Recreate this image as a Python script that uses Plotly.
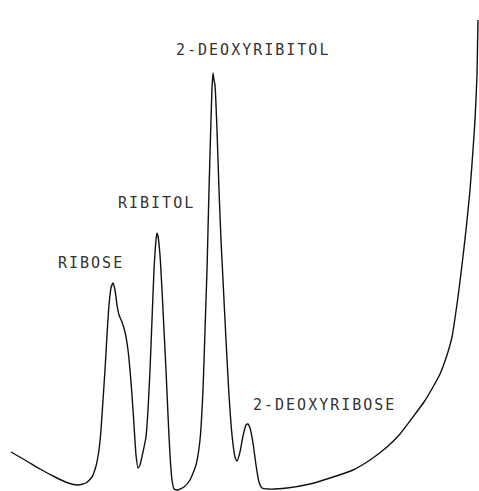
import plotly.graph_objects as go

# Chromatogram trace: retention position and detector response
retention = [11, 25, 40, 55, 68, 78, 86, 92, 96, 99, 101, 103, 105, 107, 109, 111, 113,
             115, 117, 119, 122, 125, 128, 130, 132, 134, 136, 138, 140, 143, 146, 148,
             150, 152, 154, 156, 157, 158, 160, 162, 164, 166, 168, 170, 172, 174, 178,
             184, 190, 196, 200, 203, 205, 207, 209, 211, 212, 213, 214, 215, 217, 219,
             221, 223, 226, 229, 232, 235, 237, 240, 243, 246, 248, 250, 253, 256, 259,
             262, 268, 287, 310, 330, 353, 370, 387, 400, 413, 424, 433, 440, 447, 452,
             458, 462, 466, 470, 473, 475, 477, 478]
response = [39, 31, 22, 14, 8, 6, 8, 14, 25, 41, 61, 91, 121, 156, 186, 203, 208,
            201, 186, 176, 169, 159, 141, 121, 96, 66, 36, 23, 26, 39, 54, 81,
            121, 171, 221, 251, 258, 255, 236, 201, 161, 121, 76, 36, 11, 2, 1,
            4, 11, 26, 51, 101, 161, 221, 301, 371, 403, 418, 411, 406, 361, 301,
            251, 211, 151, 96, 56, 34, 30, 39, 55, 66, 67, 63, 48, 26, 9,
            3, 2, 3, 7, 13, 21, 31, 44, 57, 74, 89, 104, 117, 136, 154,
            194, 226, 261, 301, 341, 371, 416, 471]

# Peak labels and where they sit
label_text = ["RIBOSE", "RIBITOL", "2-DEOXYRIBITOL", "2-DEOXYRIBOSE"]
label_x = [91, 156, 253, 324]
label_y = [228, 288, 441, 86]

fig = go.Figure()
fig.add_trace(go.Scatter(
    x=retention, y=response, mode="lines",
    line=dict(color="#111111", width=1.4, shape="spline", smoothing=0.5),
    hoverinfo="skip", showlegend=False,
))

for t, x, y in zip(label_text, label_x, label_y):
    fig.add_annotation(
        x=x, y=y, text=t, showarrow=False, xanchor="center", yanchor="middle",
        font=dict(family="DejaVu Sans Mono", size=15, color="#333333"),
    )

fig.update_xaxes(range=[0, 479], visible=False, fixedrange=True)
fig.update_yaxes(range=[0, 491], visible=False, fixedrange=True)
fig.update_layout(
    width=479, height=491,
    margin=dict(l=0, r=0, t=0, b=0),
    paper_bgcolor="white", plot_bgcolor="white",
)

# Widen the tracking of the plotter-style labels
spacing_js = (
    "document.querySelectorAll('.annotation-text').forEach(function(e){"
    "e.setAttribute('letter-spacing','2px');});"
)
fig.write_html("out.html", post_script=spacing_js)
